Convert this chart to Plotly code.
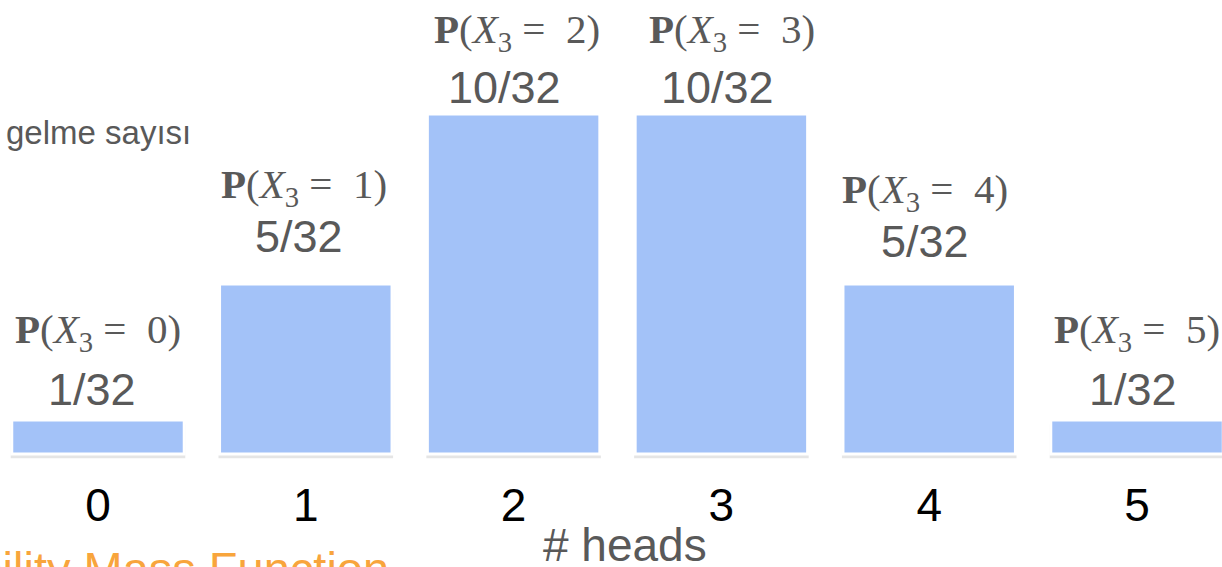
import plotly.graph_objects as go

# number of heads in 5 tosses and their counts out of 32
heads = [0, 1, 2, 3, 4, 5]
counts = [1, 5, 10, 10, 5, 1]
total = 32
probs = [c / total for c in counts]
frac_labels = [f"{c}/{total}" for c in counts]
pmf_labels = [f"<b>P</b>(<i>X</i><sub>3</sub> =  {k})" for k in heads]

# label nudges (pixels) to follow the slide layout
frac_dx = [-6, -7, -9, -4, -4, -4]
frac_dy = [30, 47, 27, 27, 42, 30]
pmf_dx = [0, -2, 3, 11, -4, 0]
pmf_dy = [88, 97, 82, 82, 92, 88]

GRAY = "#595959"
BAR = "#A3C2F8"
ORANGE = "#F8A53C"
SANS = "Liberation Sans, Arial, sans-serif"
SERIF = "Liberation Serif, Times New Roman, serif"

fig = go.Figure()
# soft shadow below each bar
fig.add_trace(go.Bar(
    x=heads, y=probs, base=[-0.004] * len(heads), width=0.84,
    marker=dict(color="rgba(110,110,110,0.18)", line=dict(width=0)),
    hoverinfo="skip", showlegend=False,
))
fig.add_trace(go.Bar(
    x=heads, y=probs, width=0.83,
    marker=dict(color=BAR, line=dict(color="white", width=3)),
    showlegend=False,
))

for k, p, fl, pl, fx, fy, px, py in zip(heads, probs, frac_labels, pmf_labels,
                                        frac_dx, frac_dy, pmf_dx, pmf_dy):
    fig.add_annotation(x=k, y=p, xref="x", yref="y", text=fl, showarrow=False,
                       xshift=fx, yshift=fy, yanchor="middle",
                       font=dict(family=SANS, size=45, color=GRAY))
    fig.add_annotation(x=k, y=p, xref="x", yref="y", text=pl, showarrow=False,
                       xshift=px, yshift=py, yanchor="middle",
                       font=dict(family=SERIF, size=41, color=GRAY))

fig.add_annotation(x=4 / 1222, y=1 - 132 / 467, xref="paper", yref="paper",
                   text="gelme sayısı", showarrow=False, xanchor="left",
                   yanchor="middle", font=dict(family=SANS, size=33, color=GRAY))
fig.add_annotation(x=625 / 1222, y=-(545 - 467) / 467, xref="paper", yref="paper",
                   text="# heads", showarrow=False, xanchor="center",
                   yanchor="middle", font=dict(family=SANS, size=46, color=GRAY))
fig.add_annotation(x=391 / 1222, y=-(540 - 467) / 467, xref="paper", yref="paper",
                   text="Probability Mass Function", showarrow=False,
                   xanchor="right", yanchor="top",
                   font=dict(family=SANS, size=47, color=ORANGE))

fig.update_layout(
    width=1222, height=567,
    margin=dict(l=0, r=0, t=0, b=100),
    paper_bgcolor="white", plot_bgcolor="white",
    barmode="overlay",
    xaxis=dict(range=[-0.4716, 5.409], tickmode="array", tickvals=heads,
               ticktext=[str(k) for k in heads], showgrid=False, zeroline=False,
               showline=False, ticklabelstandoff=7,
               tickfont=dict(family=SANS, size=46, color="black")),
    yaxis=dict(range=[-0.012, 0.4173], visible=False),
)
fig.write_html("out.html", config={"displayModeBar": False},
               post_script="document.body.style.margin='0';")
